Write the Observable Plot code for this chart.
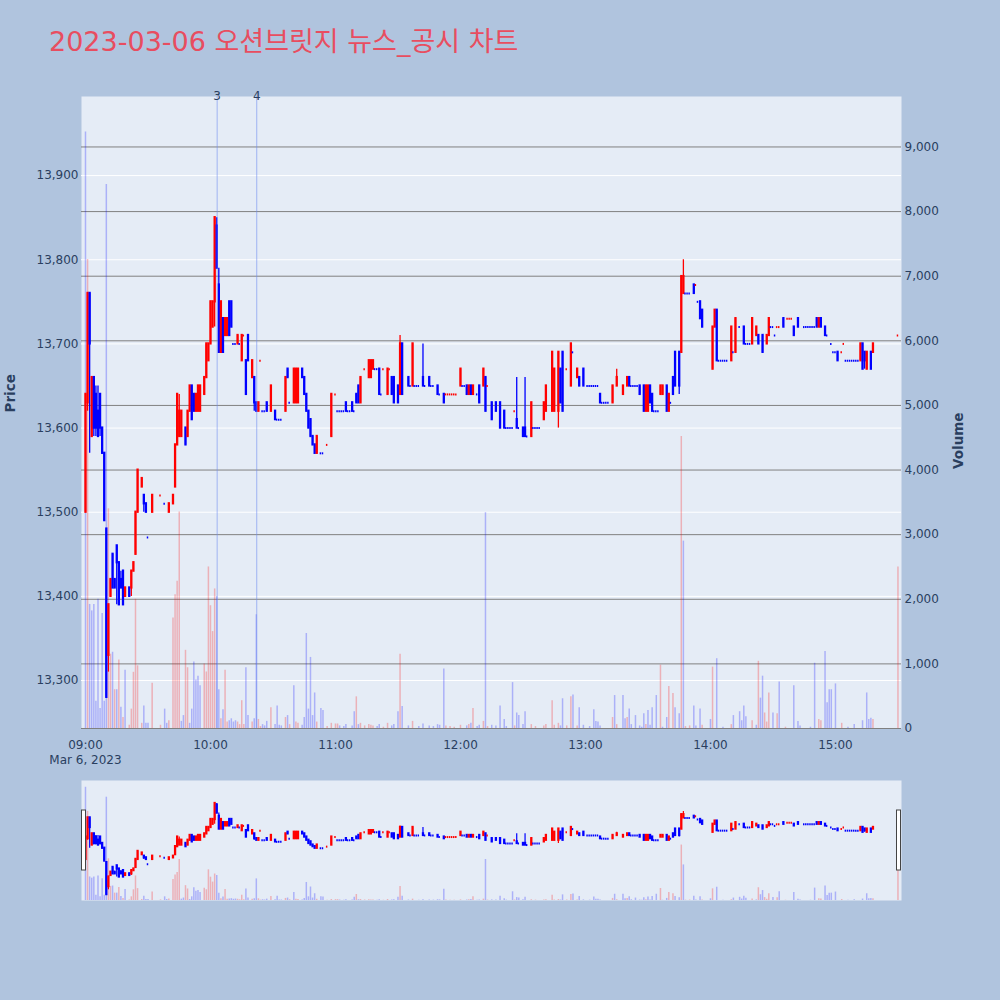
<!DOCTYPE html>
<html><head><meta charset="utf-8">
<script src="https://cdn.jsdelivr.net/npm/d3@7"></script>
<script src="https://cdn.jsdelivr.net/npm/@observablehq/plot@0.6"></script>
<style>
html,body{margin:0;padding:0;background:#b0c4de;}
#root{position:relative;width:1000px;height:1000px;background:#b0c4de;overflow:hidden;}
#root svg{position:absolute;left:0;}
</style></head>
<body><div id="root"></div>
<script>
// ---------------- DATA ----------------
const titleText = "2023-03-06 오션브릿지 뉴스_공시 차트";
const sessionDate = "2023-03-06";
// rows: [minute after 09:00, open, high, low, close] | [minute, open, close] | [minute, price]
const ohlc = [
[0,13500,13640,13500,13640],[1,13630,13760,13620,13760],[2,13760,13760,13570,13700],[3,13590,13660],
[4,13660,13660,13590,13600],[5,13640,13650,13590,13600],[6,13620,13650,13590,13590],[7,13640,13640,13590,13600],
[8,13600,13570],[9,13570,13490],[10,13480,13280],[11,13330,13390,13310,13390],[12,13400,13420],[13,13450,13410],
[14,13420,13410],[15,13460,13460,13390,13440],[16,13440,13390],[17,13420,13430,13410,13410],[18,13430,13390],
[19,13400,13410],[21,13410,13400],[22,13410,13430,13400,13430],[23,13430,13440],[24,13450,13500],[25,13500,13550],
[27,13530,13540],[28,13520,13520,13500,13510],[29,13510,13500],[30,13470],[32,13500,13520],[36,13520],[38,13510],
[40,13500,13510],[42,13510,13520],[43,13530,13580],[44,13580,13640],[45,13590,13640,13590,13620],[46,13590,13620],
[48,13600,13580],[49,13590,13620],[50,13620,13650],[51,13650,13610],[52,13640,13620],[53,13620,13640],[54,13620,13650],
[55,13620,13650],[57,13640,13660],[58,13660,13700],[59,13680,13700],[60,13700,13750],[61,13720,13750],
[62,13750,13850,13720,13850],[63,13840,13850,13790,13790],[64,13770,13790,13690,13690],[65,13690,13750],[66,13730,13690],
[67,13710,13730],[68,13710,13730],[69,13750,13710],[70,13750,13720],[71,13700],[72,13700],[73,13700,13710],[74,13700],
[75,13680,13710],[76,13710],[77,13680,13640],[78,13710,13680],[80,13660,13680],[81,13660,13660,13620,13630],[82,13630,13620],
[83,13620,13630],[84,13680],[85,13620],[86,13620],[87,13630,13620],[89,13620,13650],[91,13620,13610],[92,13610],[93,13610],
[94,13610],[96,13620,13660],[97,13670,13660],[98,13630],[100,13630,13670],[101,13630,13670],[102,13630,13670],[104,13670,13660],
[105,13660,13640],[106,13640,13620],[107,13620,13600],[108,13610,13590],[109,13590,13580],[110,13580,13570],[111,13570,13590],
[113,13570],[114,13570],[116,13580],[118,13590,13640],[120,13640],[121,13620],[122,13620],[123,13620],[124,13620],
[125,13630,13620],[126,13620],[127,13620],[128,13630,13620],[129,13620],[130,13640,13630],[131,13650,13630],[132,13630,13660],
[134,13670],[136,13660,13680],[137,13660,13680],[138,13670,13680],[139,13670],[140,13670],[141,13670,13640],[142,13640],
[143,13670],[145,13640,13670],[146,13670],[147,13660,13640],[148,13660,13630],[150,13650,13630],[151,13640,13710,13640,13700],
[152,13700,13640],[155,13660,13650],[156,13650],[157,13650,13700],[158,13650],[159,13650],[160,13650],
[162,13660,13700,13650,13650],[163,13650],[165,13660,13650],[166,13650],[167,13650],[169,13650,13640],[170,13640],
[172,13640,13630],[173,13640],[174,13640],[175,13640],[176,13640],[177,13640],[178,13640],[180,13650,13670],[181,13650],
[182,13650],[183,13650,13640],[184,13640,13650],[185,13650,13640],[186,13640,13650],[188,13640],[189,13650,13630],
[191,13650,13670],[192,13660,13620],[193,13650],[195,13630,13610],[197,13630,13620],[199,13630,13600],[201,13620,13600],
[202,13600],[203,13600],[204,13600],[205,13600],[206,13620],[207,13610,13660,13600,13600],[208,13600],[210,13600,13590],
[211,13600,13660,13590,13590],[212,13590],[214,13590,13630],[215,13600],[216,13600],[217,13600],[218,13600],
[220,13610,13630],[221,13620,13650],[224,13620,13690],[225,13620,13670],[227,13620,13690,13600,13690],[228,13670,13630],
[229,13690,13620],[231,13670],[233,13650,13700],[234,13690],[236,13660,13670],[237,13660,13650],[239,13670,13650],
[241,13650],[242,13650],[243,13650],[244,13650],[245,13650],[246,13650],[247,13640,13630],[248,13630],[249,13630],
[250,13630],[251,13630],[253,13630,13650],[255,13650,13670,13650,13660],[258,13640,13650],[260,13650,13660],
[261,13660,13650],[262,13650],[263,13650],[264,13650],[265,13650],[266,13650,13640],[268,13650,13620],[269,13620,13650],
[270,13620,13650],[271,13650,13630],[272,13640,13620],[273,13620],[274,13620],[275,13620],[276,13640,13650],
[277,13640,13650],[279,13650,13620],[280,13620,13640],[281,13630],[282,13660,13640],[283,13690,13650],
[285,13690,13690,13640,13650],[286,13690,13780],[287,13760,13800,13760,13780],[288,13760],[289,13760],[290,13760],
[292,13770,13760],[293,13770],[294,13750],[295,13750,13730],[296,13740,13720],[301,13670,13720],[302,13720,13740],
[303,13740,13680],[304,13680],[305,13680],[306,13680],[307,13680],[308,13680],[310,13680,13720],[311,13690],
[312,13690,13730],[314,13720],[316,13720,13700],[317,13700],[318,13700],[319,13700],[320,13700,13730],[322,13710,13720],
[323,13710,13700],[325,13710,13690],[327,13700,13710],[328,13710,13730],[329,13720],[330,13720],[331,13710],[332,13720],
[333,13720],[335,13730,13720],[337,13730],[338,13730],[339,13730],[340,13720,13710],[342,13730,13720],[345,13720],
[346,13720],[347,13720],[348,13720],[349,13720],[350,13720],[351,13730,13720],[352,13720,13730],[353,13730,13720],
[355,13720,13710],[356,13710],[358,13700],[359,13690],[360,13690],[361,13690,13680],[363,13690],[364,13700],
[365,13680],[366,13680],[367,13680],[368,13680],[369,13680],[370,13680],[371,13680],[372,13680,13700],[373,13700,13670],
[374,13690,13690,13670,13680],[375,13670,13690],[377,13690,13670],[378,13690,13700],[390,13710]
];
// rows: [minute after 09:00, volume, 1 = red / 0 = blue]
const volumeRows = [
[0,9230,0],[1,7260,1],[2,1920,0],[3,1820,0],[4,1920,0],[5,420,0],[6,2000,0],[7,310,0],[8,1780,0],[9,420,0],[10,8420,0],
[11,3400,1],[12,1150,1],[13,1180,0],[14,600,1],[15,600,0],[16,1060,1],[17,330,0],[18,170,1],[19,900,0],[21,50,1],[22,300,1],
[23,870,1],[24,2000,1],[25,970,1],[27,80,1],[28,350,0],[29,80,0],[30,80,0],[32,700,1],[36,50,1],[38,300,0],[39,80,0],
[40,120,1],[42,1710,1],[43,2070,1],[44,2280,1],[45,3350,1],[46,110,0],[47,200,0],[48,1210,1],[49,940,1],[50,80,0],
[51,300,0],[52,1030,0],[53,750,0],[54,810,0],[55,660,0],[57,1000,1],[58,875,1],[59,2500,1],[60,1900,1],[61,1500,1],
[62,2160,1],[63,2040,0],[64,600,0],[65,150,1],[66,290,0],[67,900,1],[68,100,1],[69,120,0],[70,150,0],[71,100,0],[72,120,0],
[73,100,1],[74,60,1],[75,430,1],[76,60,1],[77,940,0],[78,200,0],[80,100,1],[81,150,0],[82,1760,0],[83,140,1],[84,30,1],
[85,60,0],[86,40,0],[87,110,0],[89,320,1],[91,60,0],[92,350,0],[93,50,0],[94,40,0],[96,170,1],[97,200,0],[98,60,1],
[100,660,0],[101,100,1],[102,80,1],[104,50,0],[105,170,0],[106,1470,0],[107,300,0],[108,1100,0],[109,200,0],[110,550,0],
[111,100,1],[113,310,0],[114,280,0],[116,30,1],[118,80,1],[120,70,1],[121,70,1],[122,40,0],[124,30,0],[125,60,0],[128,40,0],
[129,260,0],[130,490,1],[131,60,0],[132,80,1],[134,40,1],[136,60,1],[137,50,1],[138,40,1],[140,30,0],[141,60,0],[143,20,1],
[145,80,1],[147,40,0],[148,60,0],[150,260,0],[151,1150,1],[152,340,0],[155,40,0],[157,110,1],[160,30,0],[162,70,0],
[165,40,0],[167,30,0],[169,60,0],[170,50,0],[172,920,0],[173,40,1],[175,30,1],[177,20,1],[180,50,1],[183,40,0],[184,60,1],
[185,80,0],[186,310,1],[188,30,0],[189,50,0],[191,110,1],[192,3340,0],[193,30,1],[195,50,0],[197,40,0],[199,350,0],
[201,140,0],[202,30,0],[205,710,0],[206,40,1],[207,240,0],[208,200,0],[210,60,0],[211,260,0],[214,60,1],[216,30,1],
[220,40,1],[221,60,1],[224,430,1],[225,50,1],[227,80,1],[228,40,0],[229,460,0],[231,40,1],[233,490,1],[234,520,0],
[236,40,1],[237,320,0],[239,50,0],[242,30,0],[244,290,0],[245,110,0],[246,100,0],[247,40,0],[253,170,1],[254,510,0],
[255,60,1],[258,510,0],[259,150,0],[260,170,1],[261,300,0],[262,60,0],[264,200,0],[266,40,0],[267,20,0],[268,230,0],
[269,60,1],[270,280,0],[271,50,0],[272,320,0],[274,510,0],[276,980,1],[277,20,0],[279,170,0],[280,650,1],[282,540,1],
[283,320,0],[285,230,0],[286,4520,1],[287,2900,0],[288,30,1],[290,40,1],[292,350,0],[293,40,0],[295,300,0],[296,50,1],
[300,140,0],[301,950,1],[303,1080,0],[306,20,0],[310,60,1],[311,200,0],[314,260,0],[315,120,0],[316,350,0],[317,180,0],
[320,120,1],[322,50,0],[323,1040,1],[324,470,0],[325,810,0],[326,240,1],[327,100,1],[328,550,1],[330,240,0],[332,230,1],
[333,720,0],[336,20,1],[340,660,0],[342,110,0],[343,40,0],[348,20,0],[350,1010,0],[352,140,1],[353,120,1],[355,1190,0],
[356,400,0],[357,600,0],[358,600,0],[360,690,0],[363,80,1],[366,20,0],[369,60,0],[373,120,0],[375,550,0],[376,140,0],
[377,160,0],[378,140,1],[390,2500,1]
];
const newsTimes = ["10:03:12", "10:22:12"];
const newsLabels = ["3", "4"];
const priceTicks = [13300, 13400, 13500, 13600, 13700, 13800, 13900];
const volumeTicks = [0, 1000, 2000, 3000, 4000, 5000, 6000, 7000, 8000, 9000];
const hourTicks = ["09:00", "10:00", "11:00", "12:00", "13:00", "14:00", "15:00"];
const xRange = ["08:58:05", "15:31:42"];
const priceRange = [13243, 13994];
const volumeRange = [0, 9781];

// ---------------- BUILD ----------------
const T0 = Date.parse(sessionDate + "T09:00:00Z");
const atMinute = m => new Date(T0 + m * 60000);
const atClock = s => new Date(sessionDate + "T" + (s.length === 5 ? s + ":00" : s) + "Z");
const RED = "#ff0000", BLUE = "#0000ff";

const candles = ohlc.map(r => {
  let m, o, h, l, c;
  if (r.length === 2) { [m, o] = r; h = l = c = o; }
  else if (r.length === 3) { [m, o, c] = r; h = Math.max(o, c); l = Math.min(o, c); }
  else { [m, o, h, l, c] = r; }
  return {t: atMinute(m), o, h, l, c};
});
let prevC = null, prevUp = true;
for (const d of candles) {
  let up;
  if (d.c > d.o) up = true;
  else if (d.c < d.o) up = false;
  else if (prevC !== null && d.c > prevC) up = true;
  else if (prevC !== null && d.c < prevC) up = false;
  else up = prevUp;
  d.color = up ? RED : BLUE;
  prevUp = up; prevC = d.c;
}
const bodies = candles.filter(d => d.o !== d.c);
const flats = candles.filter(d => d.o === d.c);
const halfTick = 21000; // half width of a flat candle tick, in ms
const vols = volumeRows.map(([m, v, up]) => ({t: atMinute(m), v, color: up ? RED : BLUE}));
const news = newsTimes.map((s, i) => ({t: atClock(s), label: newsLabels[i]}));
const xTicks = hourTicks.map(atClock);
const xDomain = xRange.map(atClock);

const fmtHM = d3.utcFormat("%H:%M");
const fmtDay = d3.utcFormat("%b %-d, %Y");
const tickFmt = d => +d === +xTicks[0] ? fmtHM(d) + "\n" + fmtDay(d) : fmtHM(d);

const baseStyle = {fontFamily: "'DejaVu Sans', sans-serif", fontSize: "12px", color: "#2a3f5f", background: "transparent", overflow: "visible"};
const mainDims = {width: 1000, height: 780, marginLeft: 81, marginRight: 99, marginTop: 96, marginBottom: 52, style: baseStyle};
const sliderDims = {width: 1000, height: 120, marginLeft: 81, marginRight: 99, marginTop: 0, marginBottom: 0, style: baseStyle};

const root = document.getElementById("root");
function place(svg, top) { svg.style.position = "absolute"; svg.style.top = top + "px"; svg.style.left = "0px"; root.appendChild(svg); return svg; }

function candleMarks(wick) {
  return [
    Plot.ruleX(candles, {x: "t", y1: "l", y2: "h", stroke: "color", strokeWidth: wick}),
    Plot.ruleX(bodies, {x: "t", y1: "o", y2: "c", stroke: "color", strokeWidth: 2.3, strokeLinecap: "square"}),
    Plot.ruleY(flats, {y: "c", x1: d => new Date(+d.t - halfTick), x2: d => new Date(+d.t + halfTick), stroke: "color", strokeWidth: 2})
  ];
}

// title
const titleSvg = d3.create("svg").attr("width", 1000).attr("height", 80);
titleSvg.append("text").attr("x", 49).attr("y", 51)
  .attr("font-family", "'DejaVu Sans', 'Noto Sans CJK KR', sans-serif").attr("font-size", 27)
  .attr("fill", "#e84d60").text(titleText);
place(titleSvg.node(), 0);

// main layer A: background, price grid, price axis, time axis
place(Plot.plot({
  ...mainDims,
  x: {type: "utc", domain: xDomain},
  y: {domain: priceRange},
  marks: [
    Plot.frame({fill: "#e5ecf6", stroke: "none"}),
    Plot.gridY(priceTicks, {stroke: "#ffffff", strokeOpacity: 1, strokeWidth: 1}),
    Plot.axisY(priceTicks, {tickSize: 0, tickPadding: 3, tickFormat: d3.format(","), label: null, fill: "#2a3f5f"}),
    Plot.axisX(xTicks, {tickSize: 0, tickPadding: 10, tickFormat: tickFmt, label: null, lineHeight: 1.25, fill: "#2a3f5f"}),
    Plot.text(["Price"], {frameAnchor: "left", dx: -71, rotate: -90, fontWeight: "bold", fontSize: 13.5, fill: "#2a3f5f"})
  ]
}), 0);

// main layer B: volume grid, bars, right axis
place(Plot.plot({
  ...mainDims,
  x: {type: "utc", domain: xDomain, axis: null},
  y: {domain: volumeRange},
  marks: [
    Plot.gridY(volumeTicks, {stroke: "#808080", strokeOpacity: 1, strokeWidth: 1}),
    Plot.ruleX(vols, {x: "t", y1: 0, y2: "v", stroke: "color", strokeOpacity: 0.25, strokeWidth: 1.5}),
    Plot.axisY(volumeTicks, {anchor: "right", tickSize: 0, tickPadding: 3, tickFormat: d3.format(","), label: null, fill: "#2a3f5f"}),
    Plot.text(["Volume"], {frameAnchor: "right", dx: 57, rotate: -90, fontWeight: "bold", fontSize: 13.5, fill: "#2a3f5f"})
  ]
}), 0);

// main layer C: candles and news lines
place(Plot.plot({
  ...mainDims,
  x: {type: "utc", domain: xDomain, axis: null},
  y: {domain: priceRange, axis: null},
  marks: [
    ...candleMarks(1.3),
    Plot.ruleX(news, {x: "t", stroke: "#6f8cf0", strokeOpacity: 0.6, strokeWidth: 1}),
    Plot.text(news, {x: "t", text: "label", frameAnchor: "top", lineAnchor: "middle", fontSize: 12, fill: "#2a3f5f"})
  ]
}), 0);

// range slider
place(Plot.plot({
  ...sliderDims,
  x: {type: "utc", domain: xDomain, axis: null},
  y: {domain: volumeRange, axis: null},
  marks: [
    Plot.frame({fill: "#e5ecf6", stroke: "none"}),
    Plot.ruleX(vols, {x: "t", y1: 0, y2: "v", stroke: "color", strokeOpacity: 0.25, strokeWidth: 1.5})
  ]
}), 780);
const sliderTop = Plot.plot({
  ...sliderDims,
  x: {type: "utc", domain: xDomain, axis: null},
  y: {domain: priceRange, axis: null},
  marks: candleMarks(1.2)
});
place(sliderTop, 780);
// grabbers at both ends of the selected range (full range)
const [gx0, gx1] = sliderTop.scale("x").range;
const sel = d3.select(sliderTop);
[gx0 + 0.5, gx1 - 4.5].forEach(gx => {
  sel.append("rect").attr("x", gx).attr("y", 30).attr("width", 4).attr("height", 60)
    .attr("fill", "#ffffff").attr("stroke", "#444").attr("stroke-width", 1);
});
</script>
</body></html>
